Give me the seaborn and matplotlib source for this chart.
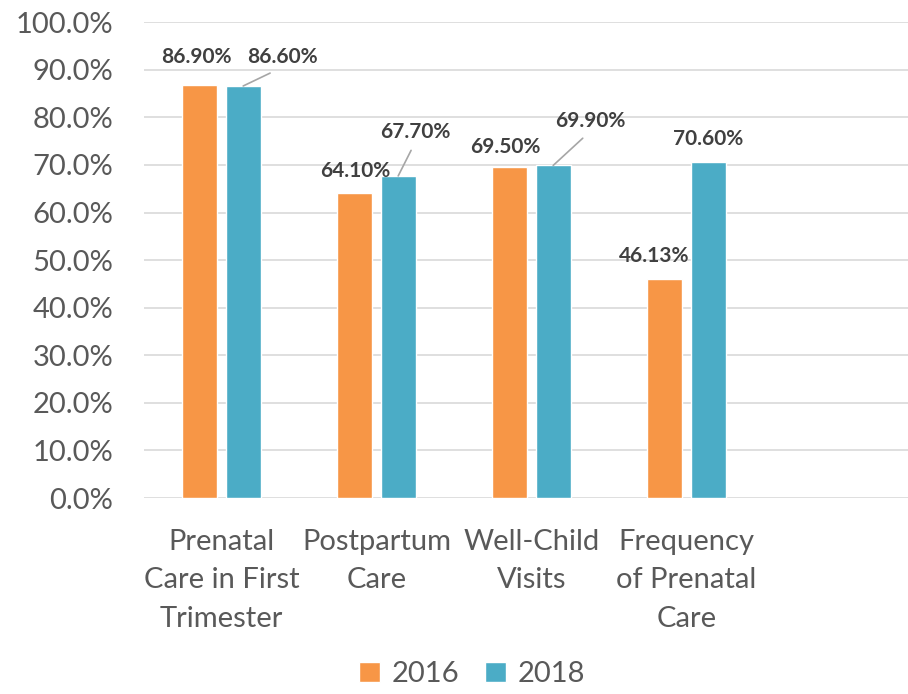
import matplotlib
matplotlib.use("Agg")
import matplotlib.pyplot as plt
import seaborn as sns
import pandas as pd

categories = ["Prenatal\nCare in First\nTrimester", "Postpartum\nCare",
              "Well-Child\nVisits", "Frequency\nof Prenatal\nCare"]
years = ["2016", "2018"]
values_2016 = [86.90, 64.10, 69.50, 46.13]
values_2018 = [86.60, 67.70, 69.90, 70.60]
colors = ["#F79646", "#4BACC6"]

df = pd.DataFrame({
    "category": categories * 2,
    "year": [years[0]] * 4 + [years[1]] * 4,
    "value": values_2016 + values_2018,
})

sns.set_style("white")
plt.rcParams["font.family"] = ["Lato", "DejaVu Sans"]

fig = plt.figure(figsize=(9.08, 6.94), dpi=100)
ax = fig.add_axes([0.1586, 0.2824, 0.8535, 0.6856])

sns.barplot(data=df, x="category", y="value", hue="year", order=categories,
            hue_order=years, palette=colors, width=0.56, gap=0.2,
            saturation=1, ax=ax, legend=True)

ax.set_xlim(-0.5, 4.5)
ax.set_ylim(0, 100)
ax.set_yticks(range(0, 101, 10))
ax.set_yticklabels([f"{v:.1f}%" for v in range(0, 101, 10)])
ax.yaxis.grid(True, color="#D9D9D9", linewidth=1.2)
ax.set_axisbelow(True)
for s in ax.spines.values():
    s.set_visible(False)
ax.tick_params(axis="both", length=0, labelsize=21, colors="#595959")
ax.tick_params(axis="y", pad=22)
ax.tick_params(axis="x", pad=22)
for lbl in ax.get_xticklabels():
    lbl.set_linespacing(1.6)
ax.set_xlabel("")
ax.set_ylabel("")

# data labels: (dx, dy) offsets from bar top in data units, leader line or not
label_offsets = {
    (0, 0): (-0.02, 5.7, False), (0, 1): (0.25, 6.0, True),
    (1, 0): (0.0, 4.6, False), (1, 1): (0.11, 9.2, True),
    (2, 0): (-0.03, 4.3, False), (2, 1): (0.24, 9.3, True),
    (3, 0): (-0.07, 4.7, False), (3, 1): (0.0, 4.8, False),
}
for hi, cont in enumerate(ax.containers):
    for ci, bar in enumerate(cont):
        x = bar.get_x() + bar.get_width() / 2
        h = bar.get_height()
        dx, dy, line = label_offsets[(ci, hi)]
        txt = f"{h:.2f}%"
        if line:
            ax.annotate(txt, xy=(x, h), xytext=(x + dx, h + dy), ha="center",
                        va="center", fontsize=15, fontweight="bold", color="#404040",
                        arrowprops=dict(arrowstyle="-", color="#A6A6A6", lw=1.2,
                                        relpos=(0.5, 0), shrinkA=4, shrinkB=0))
        else:
            ax.text(x + dx, h + dy, txt, ha="center", va="center", fontsize=15,
                    fontweight="bold", color="#404040")

handles, labels = ax.get_legend_handles_labels()
ax.get_legend().remove()
fig.legend(handles, labels, loc="lower center", bbox_to_anchor=(0.52, -0.028),
           ncol=2, frameon=False, fontsize=21, handlelength=0.7, handleheight=0.7,
           columnspacing=0.9, handletextpad=0.4, labelcolor="#595959")

plt.savefig("out.png", dpi=100)
